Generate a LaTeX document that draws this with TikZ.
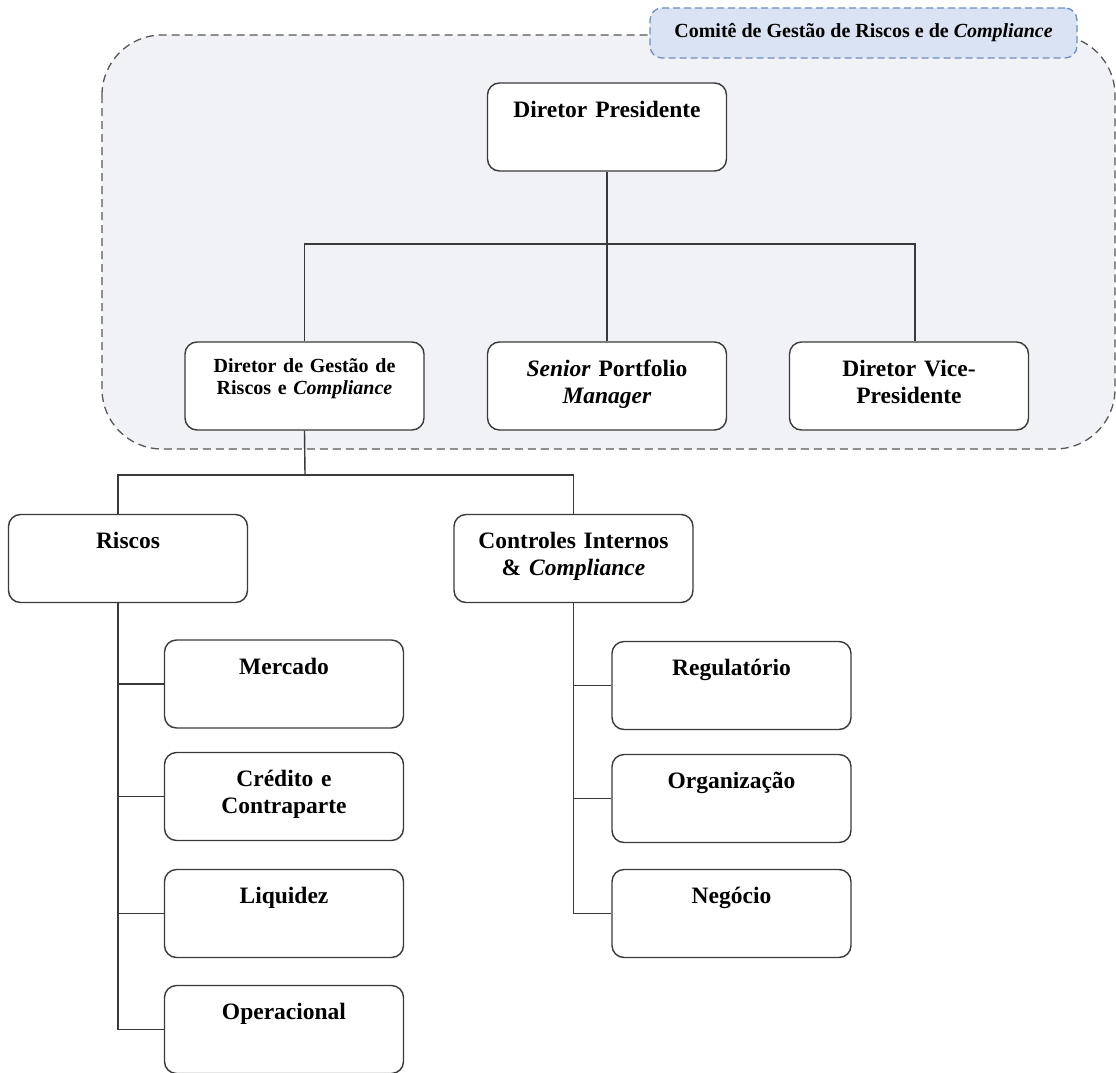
\documentclass[tikz,border=0pt]{standalone}
\usepackage{fontspec}
\setmainfont{Liberation Serif}
\definecolor{linha}{HTML}{3A3A3A}
\definecolor{fundo}{HTML}{F1F2F6}
\definecolor{comite}{HTML}{DAE3F3}
\definecolor{comiteborda}{HTML}{6C8EBF}
\tikzset{
  caixa/.style={draw=linha, line width=1.4pt, fill=white, rounded corners=12pt,
    inner xsep=5pt, inner ysep=0pt, text width=229pt, align=center,
    text height=34pt, text depth=54pt,
    font=\bfseries\fontsize{23.5}{27}\selectfont},
  caixapequena/.style={caixa, text height=30pt, text depth=58pt,
    font=\bfseries\fontsize{20}{22}\selectfont},
  grupo/.style={draw=linha!85, fill=fundo, line width=1.3pt,
    dash pattern=on 8pt off 5pt, rounded corners=60pt},
  rotulo/.style={draw=comiteborda, fill=comite, line width=1.3pt,
    dash pattern=on 7pt off 4pt, rounded corners=12pt,
    minimum width=427pt, minimum height=50pt, inner sep=0pt,
    font=\bfseries\fontsize{20}{22}\selectfont},
  ligacao/.style={draw=linha, line width=1.4pt}
}
\begin{document}
\begin{tikzpicture}[x=1pt, y=-1pt]
  \useasboundingbox (0,0) rectangle (1116,1073);
  \draw[grupo] (102,35) rectangle (1115,449);
  \node[rotulo] (comite) at (863.5,33) {Comitê de Gestão de Riscos e de \textit{Compliance}};

  \node[caixa] (pres) at (607,127) {Diretor Presidente};
  \node[caixapequena] (gestao) at (304.5,386) {Diretor de Gestão de\\Riscos e \textit{Compliance}};
  \node[caixa] (senior) at (607,386) {\textit{Senior} Portfolio\\\textit{Manager}};
  \node[caixa] (vice) at (909,386) {Diretor Vice-\\Presidente};

  \node[caixa] (riscos) at (128,558.5) {Riscos};
  \node[caixa] (controles) at (573.5,558.5) {Controles Internos\\\& \textit{Compliance}};

  \node[caixa] (mercado) at (284,684) {Mercado};
  \node[caixa] (credito) at (284,796.5) {Crédito e\\Contraparte};
  \node[caixa] (liquidez) at (284,913.5) {Liquidez};
  \node[caixa] (operacional) at (284,1029.5) {Operacional};

  \node[caixa] (regulatorio) at (731.5,685.5) {Regulatório};
  \node[caixa] (organizacao) at (731.5,798.5) {Organização};
  \node[caixa] (negocio) at (731.5,913.5) {Negócio};

  \coordinate (barra1) at (607,244);
  \coordinate (barra2) at (305,475);
  \coordinate (riscosx) at ([xshift=-10pt]riscos.south);

  \begin{scope}[ligacao]
    \draw (pres) to (senior);
    \draw (gestao.north) |- (barra1) -| ([xshift=6pt]vice.north);
    \draw (gestao.south) to (barra2);
    \draw ([xshift=-10pt]riscos.north) |- (barra2) -| (controles.north);
    \draw (riscosx) |- (operacional.west);
    \foreach \n in {mercado,credito,liquidez}
      \draw (\n.west) to (\n.west -| riscosx);
    \draw (controles.south) |- (negocio.west);
    \foreach \n in {regulatorio,organizacao}
      \draw (\n.west) to (\n.west -| controles.south);
  \end{scope}
\end{tikzpicture}
\end{document}
